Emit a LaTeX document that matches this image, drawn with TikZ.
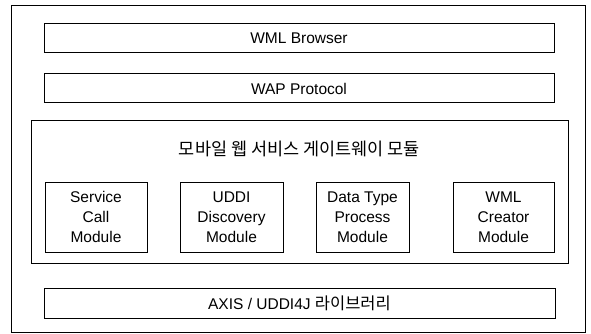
\documentclass[tikz,border=0pt]{standalone}
\usepackage{fontspec}
\setmainfont{Liberation Sans}
\newfontfamily\kr{Noto Sans CJK KR}
\usetikzlibrary{positioning}

\begin{document}
\begin{tikzpicture}[x=1pt,y=-1pt,
    box/.style={draw, line width=1pt, inner sep=0pt, font=\fontsize{15.5}{20}\selectfont},
    layer/.style={box, minimum width=510pt, minimum height=29pt},
    module/.style={box, align=center, minimum height=70pt}]

    \useasboundingbox (0,0) rectangle (591,334);
    \node[draw, line width=1pt, inner sep=0pt, minimum width=574pt, minimum height=326pt] (frame) at (298,169) {};

    \node[layer] (browser) at (299,38.5) {WML Browser};
    \node[layer] (wap) at (299,88.5) {WAP Protocol};

    % gateway module with its four parts
    \node[draw, line width=1pt, inner sep=0pt, minimum width=537pt, minimum height=142pt] (gateway) at (299.5,192) {};
    \node[font=\kr\fontsize{17.5}{20}\selectfont] (title) at (299.5,149) {모바일 웹 서비스 게이트웨이 모듈};

    \node[module, minimum width=102pt] (call) at (96,217) {Service\\Call\\Module};
    \node[module, minimum width=103pt] (uddi) at (231.5,217) {UDDI\\Discovery\\Module};
    \node[module, minimum width=93pt] (dtype) at (362.5,217) {Data Type\\Process\\Module};
    \node[module, minimum width=101pt] (creator) at (503.5,217) {WML\\Creator\\Module};

    \node[layer, minimum width=511pt, minimum height=30pt] (axis) at (299.5,303) {AXIS / UDDI4J {\kr\fontsize{16.5}{20}\selectfont 라이브러리}};

\end{tikzpicture}
\end{document}
